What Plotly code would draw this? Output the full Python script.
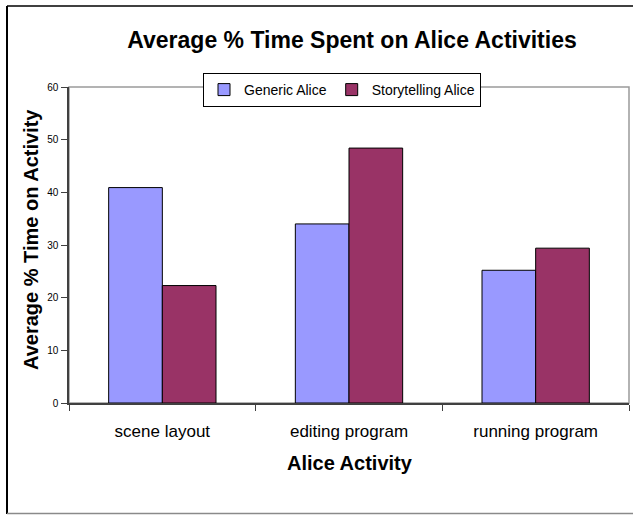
import plotly.graph_objects as go

categories = ["scene layout", "editing program", "running program"]
generic_alice = [40.9, 34.0, 25.2]
storytelling_alice = [22.3, 48.4, 29.4]
y_ticks = [0, 10, 20, 30, 40, 50, 60]

FONT = "Arial, Liberation Sans, sans-serif"

fig = go.Figure()
fig.add_trace(go.Bar(name="Generic Alice", x=categories, y=generic_alice,
                     marker=dict(color="#9999FF", line=dict(color="black", width=1))))
fig.add_trace(go.Bar(name="Storytelling Alice", x=categories, y=storytelling_alice,
                     marker=dict(color="#993366", line=dict(color="black", width=1))))

L, R, T, B = 69, 4, 87, 112
W, H = 633, 515
pw, ph = W - L - R, H - T - B

def px(x):
    return (x - L) / pw

def py(y):
    return (H - B - y) / ph

fig.update_layout(
    width=W, height=H,
    margin=dict(l=L, r=R, t=T, b=B, autoexpand=False),
    paper_bgcolor="white", plot_bgcolor="white",
    font=dict(family=FONT, color="black"),
    barmode="group", bargap=0.425, bargroupgap=0,
    showlegend=True,
    legend=dict(orientation="h", x=px(342), xanchor="center", y=py(73), yanchor="top",
                bgcolor="white", bordercolor="black", borderwidth=1,
                font=dict(size=14, family=FONT), itemwidth=30, tracegroupgap=0),
    title=dict(text="<b>Average % Time Spent on Alice Activities</b>",
               font=dict(size=23, family=FONT, color="black"),
               xref="container", x=352 / W, xanchor="center",
               yref="container", y=1 - 40 / H, yanchor="middle"),
    xaxis=dict(showline=True, linecolor="#404040", linewidth=1.5,
               ticks="outside", tickson="boundaries", ticklen=6, tickcolor="#404040",
               tickfont=dict(size=17, family=FONT, color="black"), ticklabelstandoff=12,
               showgrid=False, fixedrange=True),
    yaxis=dict(range=[0, 60], tickvals=y_ticks, showline=True, linecolor="#404040",
               linewidth=1.5, ticks="outside", ticklen=6, tickcolor="#404040",
               tickfont=dict(size=10, family=FONT, color="black"), ticklabelstandoff=1,
               showgrid=False, zeroline=False, fixedrange=True),
    shapes=[
        dict(type="rect", xref="paper", yref="paper", x0=0, x1=1, y0=0, y1=1,
             line=dict(color="#9a9a9a", width=1.5), layer="below"),
        dict(type="line", xref="paper", yref="paper", x0=px(7), x1=px(7), y0=py(514), y1=py(6),
             line=dict(color="black", width=2)),
        dict(type="line", xref="paper", yref="paper", x0=px(7), x1=px(640), y0=py(6), y1=py(6),
             line=dict(color="black", width=1.5)),
        dict(type="line", xref="paper", yref="paper", x0=px(7), x1=px(640), y0=py(513.5), y1=py(513.5),
             line=dict(color="#8a8a8a", width=1.5)),
    ],
    annotations=[
        dict(text="<b>Average % Time on Activity</b>", xref="paper", yref="paper",
             x=px(31), y=py(240), textangle=-90, showarrow=False,
             font=dict(size=20, family=FONT, color="black"), xanchor="center", yanchor="middle"),
        dict(text="<b>Alice Activity</b>", xref="paper", yref="paper",
             x=px(350), y=py(463), showarrow=False,
             font=dict(size=20, family=FONT, color="black"), xanchor="center", yanchor="middle"),
    ],
)

fig.write_html("out.html", config={"displayModeBar": False},
               post_script="document.body.style.margin='0';")
